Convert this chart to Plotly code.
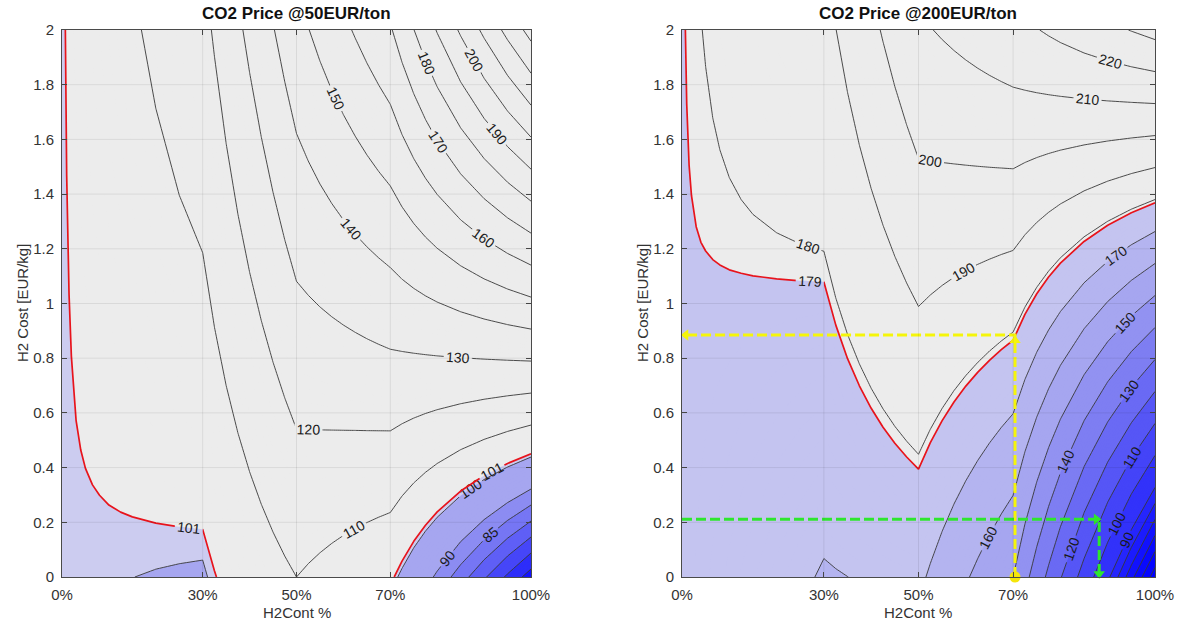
import plotly.graph_objects as go

FONT = "Arial, 'Liberation Sans', Helvetica, sans-serif"

# H2 content of the blend (%) and H2 cost (EUR/kg) grid nodes
h2_content = [0, 0.5, 1, 1.5, 2, 3, 4, 5, 6.5, 8, 10, 12.5, 15, 20, 25, 30,
              32.5, 35, 37.5, 40, 42.5, 45, 47.5, 50,
              52.5, 55, 57.5, 60, 62.5, 65, 67.5, 70,
              72.5, 75, 77.5, 80, 85, 90, 95, 100]
h2_cost = [0, 2]

# Cost figure at CO2 price 50 EUR/ton, for H2 at 0 and 2 EUR/kg
cost_co2_50_h2_0 = [100.60, 100.58, 100.56, 100.54, 100.52, 100.49, 100.45, 100.41, 100.35, 100.29,
                    100.22, 100.12, 100.02, 99.83, 99.64, 99.45,
                    100.77, 102.09, 103.41, 104.73, 106.04, 107.36, 108.68, 110.00,
                    109.01, 108.03, 107.04, 106.05, 105.06, 104.08, 103.09, 102.10,
                    98.80, 95.50, 92.20, 88.90, 82.30, 75.70, 69.10, 62.50]
cost_co2_50_h2_2 = [100.60, 100.88, 101.16, 101.43, 101.71, 102.27, 102.82, 103.38, 104.21, 105.04,
                    106.15, 107.54, 108.93, 111.70, 114.48, 117.25,
                    120.97, 124.69, 128.41, 132.13, 135.84, 139.56, 143.28, 147.00,
                    149.76, 152.53, 155.29, 158.05, 160.81, 163.58, 166.34, 169.10,
                    174.47, 179.83, 185.20, 190.57, 201.30, 212.03, 222.77, 233.50]

# Cost figure at CO2 price 200 EUR/ton, for H2 at 0 and 2 EUR/kg
cost_co2_200_h2_0 = [178.80, 178.64, 178.49, 178.33, 178.17, 177.86, 177.55, 177.23, 176.76, 176.29,
                     175.67, 174.88, 174.10, 172.53, 170.97, 169.40,
                     169.69, 169.98, 170.26, 170.55, 170.84, 171.13, 171.41, 171.70,
                     168.99, 166.28, 163.56, 160.85, 158.14, 155.43, 152.71, 150.00,
                     142.67, 135.33, 128.00, 120.67, 106.00, 91.33, 76.67, 62.00]
cost_co2_200_h2_2 = [178.80, 178.94, 179.08, 179.22, 179.36, 179.64, 179.92, 180.20, 180.62, 181.04,
                     181.60, 182.30, 183.00, 184.40, 185.80, 187.20,
                     189.89, 192.58, 195.26, 197.95, 200.64, 203.33, 206.01, 208.70,
                     209.74, 210.78, 211.81, 212.85, 213.89, 214.93, 215.96, 217.00,
                     218.33, 219.67, 221.00, 222.33, 225.00, 227.67, 230.33, 233.00]

x_tick_vals = [0, 30, 50, 70, 100]
x_tick_text = ["0%", "30%", "50%", "70%", "100%"]

# contour levels: (start, end, step)
levels_fine = (65, 90, 5)
levels_main = (100, 230, 10)
break_even_50 = 101
break_even_200 = 179

# reading guides on the 200 EUR/ton map
yellow_x = [70.4, 70.4, 0.8]
yellow_y = [0.0, 0.885, 0.885]
green_x = [0.0, 87.6, 88.2, 88.2]
green_y = [0.211, 0.211, 0.211, 0.012]

# filled band edges and colours
bands_50 = [59.5, 65, 70, 75, 80, 85, 90, 100, 101, 240.5]
colors_50 = ["#1414FF", "#2D2DFA", "#4646F8", "#5F5FF6", "#7676F4", "#8C8CF2", "#A6A6F0",
             "#CCCCF0", "#ECECEC"]
bands_200 = [59.5, 65, 70, 75, 80, 85, 90, 100, 110, 120, 130, 140, 150, 160, 170, 179, 240.5]
colors_200 = ["#0000FF", "#0505FF", "#0A0AFF", "#1212FE", "#1C1CFD", "#2626FC", "#3232FA",
              "#4444F8", "#5656F6", "#6A6AF4", "#7E7EF2", "#9292F1", "#A6A6F0", "#B4B4F0",
              "#C4C4F0", "#ECECEC"]

FILL_START, FILL_END, FILL_STEP = 60, 240, 1
SPAN_LO = FILL_START - FILL_STEP / 2
SPAN = (FILL_END - FILL_START + FILL_STEP)


def step_scale(edges, colors):
    scale = []
    for i, c in enumerate(colors):
        p0 = (edges[i] - SPAN_LO) / SPAN
        p1 = (edges[i + 1] - SPAN_LO) / SPAN
        scale.append([max(0.0, min(1.0, p0)), c])
        scale.append([max(0.0, min(1.0, p1)), c])
    scale[0][0] = 0.0
    scale[-1][0] = 1.0
    return scale


def fill_trace(z, edges, colors, xa, ya):
    return go.Contour(
        x=h2_content, y=h2_cost, z=z, xaxis=xa, yaxis=ya,
        autocontour=False,
        contours=dict(start=FILL_START, end=FILL_END, size=FILL_STEP,
                      coloring="fill", showlines=False),
        colorscale=step_scale(edges, colors),
        line=dict(width=0, smoothing=0),
        showscale=False, hoverinfo="skip",
    )


def line_trace(z, start, end, size, color, width, xa, ya):
    return go.Contour(
        x=h2_content, y=h2_cost, z=z, xaxis=xa, yaxis=ya,
        autocontour=False,
        contours=dict(start=start, end=end, size=size, coloring="none",
                      showlabels=True,
                      labelfont=dict(family=FONT, size=14, color="#1a1a1a")),
        line=dict(color=color, width=width, smoothing=0),
        showscale=False, hoverinfo="skip",
    )


z50 = [cost_co2_50_h2_0, cost_co2_50_h2_2]
z200 = [cost_co2_200_h2_0, cost_co2_200_h2_2]

LINE_C = "#383838"
RED = "#E8141C"

fig = go.Figure()
# left map: CO2 @50
fig.add_trace(fill_trace(z50, bands_50, colors_50, "x", "y"))
fig.add_trace(line_trace(z50, *levels_fine, LINE_C, 0.9, "x", "y"))
fig.add_trace(line_trace(z50, *levels_main, LINE_C, 0.9, "x", "y"))
fig.add_trace(line_trace(z50, break_even_50, break_even_50, 1, RED, 1.7, "x", "y"))
# right map: CO2 @200
fig.add_trace(fill_trace(z200, bands_200, colors_200, "x2", "y2"))
fig.add_trace(line_trace(z200, *levels_fine, LINE_C, 0.9, "x2", "y2"))
fig.add_trace(line_trace(z200, *levels_main, LINE_C, 0.9, "x2", "y2"))
fig.add_trace(line_trace(z200, break_even_200, break_even_200, 1, RED, 1.7, "x2", "y2"))

# guides
fig.add_trace(go.Scatter(x=yellow_x, y=yellow_y, xaxis="x2", yaxis="y2", mode="lines",
                         line=dict(color="#F5F50A", width=3, dash="10px,4px"),
                         hoverinfo="skip", showlegend=False, cliponaxis=False))
fig.add_trace(go.Scatter(x=green_x, y=green_y, xaxis="x2", yaxis="y2",
                         mode="lines", line=dict(color="#2EE62E", width=3, dash="10px,4px"),
                         hoverinfo="skip", showlegend=False))
fig.add_trace(go.Scatter(
    x=[yellow_x[-1], yellow_x[1]], y=[yellow_y[-1], yellow_y[1] - 0.02],
    xaxis="x2", yaxis="y2", mode="markers",
    marker=dict(symbol=["triangle-left", "triangle-up"], size=10, color="#F5F50A"),
    hoverinfo="skip", showlegend=False, cliponaxis=False))
fig.add_trace(go.Scatter(
    x=[yellow_x[0]], y=[yellow_y[0]], xaxis="x2", yaxis="y2", mode="markers",
    marker=dict(symbol="circle", size=11, color="#F5E60A"),
    hoverinfo="skip", showlegend=False, cliponaxis=False))
fig.add_trace(go.Scatter(
    x=[green_x[1], green_x[-1]], y=[green_y[1], green_y[-1]],
    xaxis="x2", yaxis="y2", mode="markers",
    marker=dict(symbol=["triangle-right", "triangle-down"], size=10, color="#2EE62E"),
    hoverinfo="skip", showlegend=False, cliponaxis=False))

X_DOM_L = [62 / 1190, 531 / 1190]
X_DOM_R = [682 / 1190, 1155 / 1190]
Y_DOM = [51 / 628, 598 / 628]

axis_style = dict(showgrid=False, zeroline=False, showline=True, linecolor="#4a4a4a",
                  linewidth=1, mirror="ticks", ticks="inside", ticklen=5,
                  tickcolor="#4a4a4a", automargin=False,
                  tickfont=dict(family=FONT, size=15, color="#333333"))

xcfg = dict(axis_style, range=[0, 100], tickmode="array", tickvals=x_tick_vals,
            ticktext=x_tick_text, ticklabelstandoff=4)
ycfg = dict(axis_style, range=[0, 2], tick0=0, dtick=0.2, ticklabelstandoff=4)

fig.update_layout(
    width=1190, height=628,
    margin=dict(l=0, r=0, t=0, b=0, autoexpand=False),
    paper_bgcolor="white", plot_bgcolor="#ECECEC",
    showlegend=False,
    xaxis=dict(xcfg, domain=X_DOM_L, anchor="y"),
    yaxis=dict(ycfg, domain=Y_DOM, anchor="x"),
    xaxis2=dict(xcfg, domain=X_DOM_R, anchor="y2"),
    yaxis2=dict(ycfg, domain=Y_DOM, anchor="x2"),
)

# faint grid drawn over the filled bands
shapes = []
for xr, yr in (("x", "y"), ("x2", "y2")):
    for gx in x_tick_vals[1:-1]:
        shapes.append(dict(type="line", xref=xr, yref=yr, x0=gx, x1=gx, y0=0, y1=2,
                           line=dict(color="rgba(0,0,0,0.08)", width=1), layer="above"))
    for k in range(1, 10):
        gy = k * 0.2
        shapes.append(dict(type="line", xref=xr, yref=yr, x0=0, x1=100, y0=gy, y1=gy,
                           line=dict(color="rgba(0,0,0,0.08)", width=1), layer="above"))
fig.update_layout(shapes=shapes)

ann = []
for dom, title in ((X_DOM_L, "CO2 Price @50EUR/ton"), (X_DOM_R, "CO2 Price @200EUR/ton")):
    cx = (dom[0] + dom[1]) / 2
    ann.append(dict(text="<b>%s</b>" % title, x=cx, y=1 - 13 / 628, xref="paper", yref="paper",
                    showarrow=False, xanchor="center", yanchor="middle",
                    font=dict(family=FONT, size=17, color="#111111")))
    ann.append(dict(text="H2Cont %", x=cx, y=1 - 612 / 628, xref="paper", yref="paper",
                    showarrow=False, xanchor="center", yanchor="middle",
                    font=dict(family=FONT, size=15, color="#333333")))
for px in (22, 642):
    ann.append(dict(text="H2 Cost [EUR/kg]", x=px / 1190, y=1 - 303 / 628, xref="paper",
                    yref="paper", showarrow=False, textangle=-90, xanchor="center",
                    yanchor="middle", font=dict(family=FONT, size=15, color="#333333")))
fig.update_layout(annotations=ann)

fig.write_html("out.html")
